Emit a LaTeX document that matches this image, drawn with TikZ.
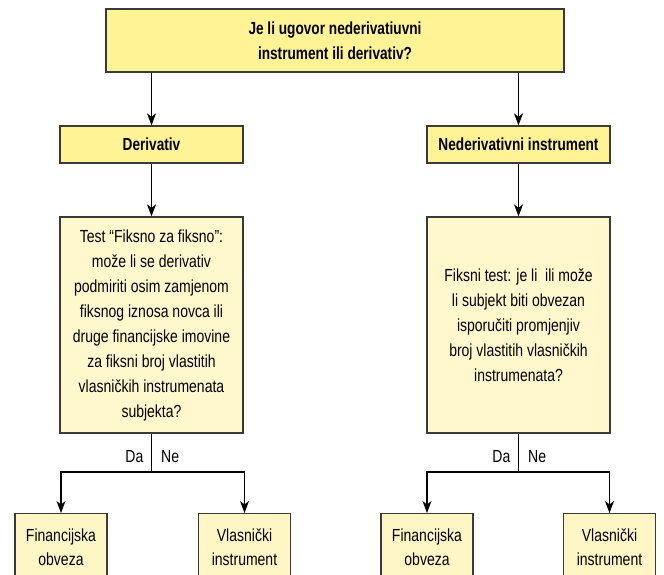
\documentclass[tikz,border=0pt]{standalone}
\usepackage{fontspec}
\setmainfont[FakeStretch=0.8,BoldFeatures={FakeStretch=0.78}]{Liberation Sans}
\usetikzlibrary{arrows.meta,positioning,calc}
\definecolor{boxline}{RGB}{58,58,58}
\definecolor{hdrfill}{RGB}{255,243,150}
\definecolor{qfill}{RGB}{255,248,204}
\definecolor{resfill}{RGB}{255,246,198}
\tikzset{
  basebox/.style={draw=boxline, line width=1.3pt, rectangle, inner sep=0pt, align=center,
    font=\fontsize{17.5}{25}\selectfont},
  hdrbox/.style={basebox, fill=hdrfill, font=\fontsize{17.5}{25}\selectfont\bfseries},
  qbox/.style={basebox, fill=qfill, minimum width=183pt, minimum height=216pt},
  resbox/.style={basebox, fill=resfill, minimum width=92pt, minimum height=87pt, anchor=north},
  restext/.style={align=center, inner sep=0pt, anchor=north, font=\fontsize{17.5}{23.5}\selectfont},
  lbl/.style={inner sep=0pt, font=\fontsize{17.5}{20}\selectfont},
  conn/.style={draw=black, line width=1.2pt, line join=miter},
  arr/.style={conn, -{Stealth[length=12pt,width=9pt,inset=3.5pt]}},
}
\begin{document}
\begin{tikzpicture}[x=1pt,y=-1pt]
\useasboundingbox (0,0) rectangle (664,574);
% top question
\node[hdrbox, minimum width=458pt, minimum height=63pt] (top) at (335,40.5)
  {Je li ugovor nederivatiuvni\\instrument ili derivativ?};
% category boxes
\node[hdrbox, minimum width=183pt, minimum height=37pt] (der) at (151.5,144.5) {Derivativ};
\node[hdrbox, minimum width=183pt, minimum height=37pt] (nder) at (518.5,144.5) {Nederivativni instrument};
% tests
\node[qbox] (t1) at (151.5,325) {Test “Fiksno za fiksno”:\\može li se derivativ\\podmiriti osim zamjenom\\fiksnog iznosa novca ili\\druge financijske imovine\\za fiksni broj vlastitih\\vlasničkih instrumenata\\subjekta?};
\node[qbox] (t2) at (518.5,325) {Fiksni test: je li\ \ ili može\\li subjekt biti obvezan\\isporučiti promjenjiv\\broj vlastitih vlasničkih\\instrumenata?};
% result boxes
\node[resbox] (fo1) at (61,513) {};
\node[resbox] (vi1) at (244.5,513) {};
\node[resbox] (fo2) at (427,513) {};
\node[resbox] (vi2) at (609.5,513) {};
\node[restext] (fo1t) at ([yshift=-16pt]fo1.north) {Financijska\\obveza};
\node[restext] (vi1t) at ([yshift=-16pt]vi1.north) {Vlasnički\\instrument};
\node[restext] (fo2t) at ([yshift=-16pt]fo2.north) {Financijska\\obveza};
\node[restext] (vi2t) at ([yshift=-16pt]vi2.north) {Vlasnički\\instrument};
% split coordinates
\coordinate (s1) at (151.5,472);
\coordinate (s2) at (518.5,472);
% connectors
\draw[arr] (top.south -| der.north) -- (der.north);
\draw[arr] (top.south -| nder.north) -- (nder.north);
\draw[arr] (der.south) -- (t1.north);
\draw[arr] (nder.south) -- (t2.north);
\draw[conn] (t1.south) -- (s1);
\draw[conn] (t2.south) -- (s2);
\draw[arr] (s1) -| (fo1.north);
\draw[arr] (s1) -| (vi1.north);
\draw[arr] (s2) -| (fo2.north);
\draw[arr] (s2) -| (vi2.north);
% Da / Ne labels
\node[lbl, anchor=base east] (da1) at (143.5,462.5) {Da};
\node[lbl, anchor=base west] (ne1) at (161,462.5) {Ne};
\node[lbl, anchor=base east] (da2) at (510.5,462.5) {Da};
\node[lbl, anchor=base west] (ne2) at (528,462.5) {Ne};
\end{tikzpicture}
\end{document}
